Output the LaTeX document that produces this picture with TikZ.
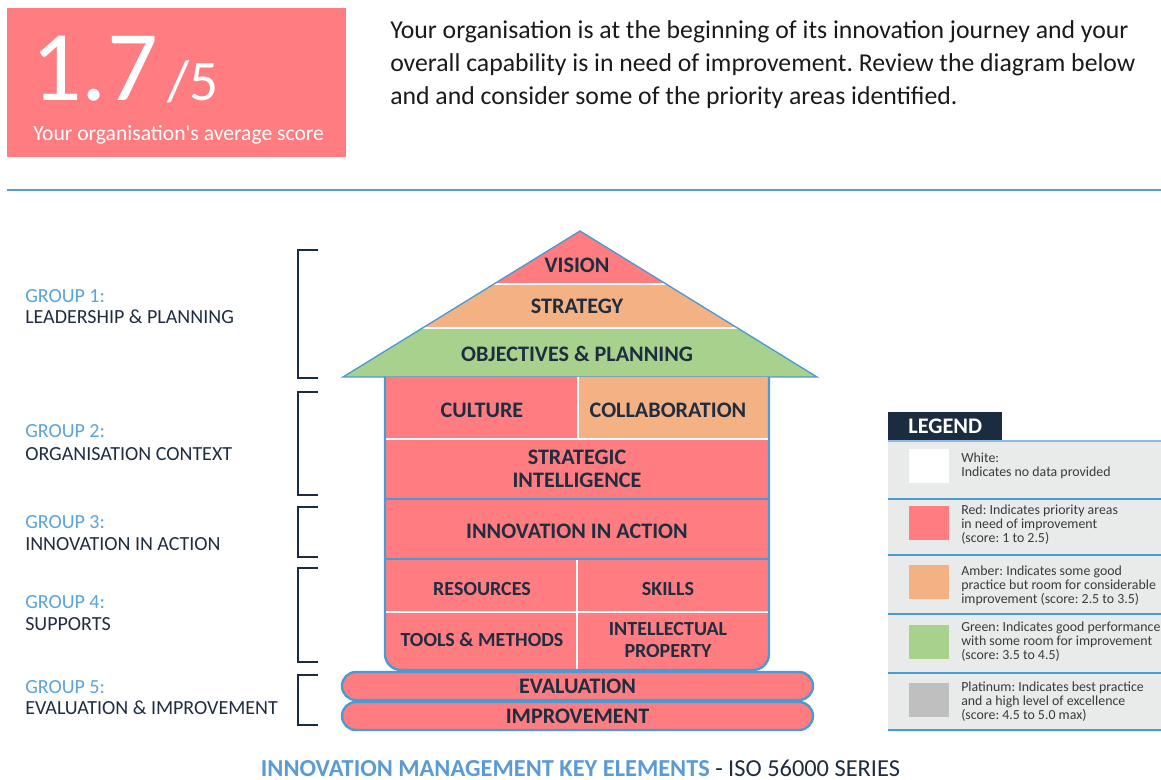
\documentclass[tikz,border=0pt]{standalone}
\usepackage{fontspec}
\setmainfont{Carlito}[Ligatures=TeXOff]
\frenchspacing
\definecolor{scorered}{HTML}{FF7C80}
\definecolor{amber}{HTML}{F4B183}
\definecolor{leaf}{HTML}{A9D18E}
\definecolor{platinum}{HTML}{BFBFBF}
\definecolor{edgeblue}{HTML}{4A9AD4}
\definecolor{rulecol}{HTML}{5B9BD5}
\definecolor{navy}{HTML}{1B2B40}
\definecolor{labelnavy}{HTML}{1F2D40}
\definecolor{grouptext}{HTML}{5AA4DC}
\definecolor{legendbg}{HTML}{E9EBEB}
\definecolor{legendtext}{HTML}{3A3A3A}
\definecolor{bodytext}{HTML}{1A1A1A}
\tikzset{
  cellText/.style={font=\bfseries\fontsize{16.6}{17.5}\selectfont, text=labelnavy, align=center, inner sep=0pt},
  smallCell/.style={cellText, font=\bfseries\fontsize{15}{16.5}\selectfont},
  groupHead/.style={anchor=base west, font=\fontsize{15}{17}\selectfont, text=grouptext, inner sep=0pt},
  groupName/.style={anchor=base west, font=\fontsize{15}{17}\selectfont, text=labelnavy, inner sep=0pt},
  bracket/.style={draw=navy, line width=1.9pt},
  legendText/.style={anchor=west, align=left, font=\fontsize{10.4}{10.6}\selectfont, text=legendtext, inner sep=0pt},
  swatch/.style={minimum width=30pt, minimum height=25pt, inner sep=0pt, draw=none},
  sepLine/.style={draw=edgeblue, line width=1.5pt},
  pill/.style={draw=edgeblue, line width=1.8pt, fill=scorered, rounded corners=10.5pt,
    minimum width=353.25pt, minimum height=21pt, inner sep=0pt},
  paraText/.style={anchor=base west, font=\fontsize{19.3}{24}\selectfont, text=bodytext, inner sep=0pt}
}
\begin{document}
\begin{tikzpicture}[x=0.75pt,y=-0.75pt]
\useasboundingbox (0,0) rectangle (1161,780);
\fill[white] (0,0) rectangle (1161,780);

% score panel
\node[fill=scorered, anchor=north west, minimum width=254.25pt, minimum height=111.75pt, inner sep=0pt] (scorebox) at (7,8) {};
\node[anchor=base west, inner sep=0pt, text=white, font=\fontsize{75}{75}\selectfont] (scorevalue) at (31,101) {1.7};
\node[anchor=base west, inner sep=0pt, text=white, font=\fontsize{43}{43}\selectfont] (scoremax) at (167,101) {/5};
\node[anchor=base west, inner sep=0pt, text=white, font=\fontsize{16.2}{18}\selectfont] (scorecaption) at (33,141) {Your organisation's average score};

% summary paragraph
\node[paraText] (para1) at (390,39) {Your organisation is at the beginning of its innovation journey and your};
\node[paraText] (para2) at (390,72) {overall capability is in need of improvement. Review the diagram below};
\node[paraText] (para3) at (390,105) {and and consider some of the priority areas identified.};

% divider
\draw[rulecol, line width=1.1pt] (7,190) -- (1161,190);

% roof bands
\fill[scorered] (580,231) -- (666,284) -- (494,284) -- cycle;
\fill[amber] (494,284) -- (666,284) -- (737.4,328) -- (422.6,328) -- cycle;
\fill[leaf] (422.6,328) -- (737.4,328) -- (817,377) -- (343,377) -- cycle;
\draw[white, line width=1.5pt] (494,284) -- (666,284);
\draw[white, line width=1.5pt] (422.6,328) -- (737.4,328);
\draw[edgeblue, line width=1pt] (580,231) -- (817,377) -- (343,377) -- cycle;

% house body
\fill[scorered, rounded corners=12pt] (385,377) -- (385,670) -- (769,670) -- (769,377);
\fill[amber] (578,377) rectangle (769,439);
\draw[white, line width=1.5pt] (578,377) -- (578,439);
\draw[white, line width=1.5pt] (385,439) -- (769,439);
\draw[white, line width=1.5pt] (577,559) -- (577,670);
\draw[white, line width=1.5pt] (385,612) -- (769,612);
\draw[edgeblue, line width=1.8pt] (385,499) -- (769,499);
\draw[edgeblue, line width=1.8pt] (385,559) -- (769,559);
\draw[edgeblue, line width=1.8pt, rounded corners=12pt] (385,377) -- (385,670) -- (769,670) -- (769,377);

% element labels
\node[cellText] (vision) at (577,265) {VISION};
\node[cellText] (strategy) at (577,306) {STRATEGY};
\node[cellText] (objectives) at (577,354) {OBJECTIVES \& PLANNING};
\node[cellText] (culture) at (482,410) {CULTURE};
\node[cellText] (collaboration) at (668,410) {COLLABORATION};
\node[cellText] (intelligence) at (577,469) {STRATEGIC\\INTELLIGENCE};
\node[cellText] (inaction) at (577,531) {INNOVATION IN ACTION};
\node[smallCell] (resources) at (482,589) {RESOURCES};
\node[smallCell] (skills) at (668,589) {SKILLS};
\node[smallCell] (tools) at (482,640) {TOOLS \& METHODS};
\node[smallCell] (property) at (668,640) {INTELLECTUAL\\PROPERTY};

% foundation
\node[pill, cellText] (evaluation) at (577.5,686) {EVALUATION};
\node[pill, cellText] (improvement) at (577.5,716) {IMPROVEMENT};

% group brackets
\draw[bracket] (318,250) -- (298,250) -- (298,378) -- (318,378);
\draw[bracket] (318,392) -- (298,392) -- (298,495) -- (318,495);
\draw[bracket] (318,507) -- (298,507) -- (298,557) -- (318,557);
\draw[bracket] (318,568) -- (298,568) -- (298,662) -- (318,662);
\draw[bracket] (318,675) -- (298,675) -- (298,725) -- (318,725);

% group labels
\node[groupHead] (g1head) at (25,303) {GROUP 1:};
\node[groupName] (g1name) at (25,324) {LEADERSHIP \& PLANNING};
\node[groupHead] (g2head) at (25,438) {GROUP 2:};
\node[groupName] (g2name) at (25,461) {ORGANISATION CONTEXT};
\node[groupHead] (g3head) at (25,529) {GROUP 3:};
\node[groupName] (g3name) at (25,551) {INNOVATION IN ACTION};
\node[groupHead] (g4head) at (25,609) {GROUP 4:};
\node[groupName] (g4name) at (25,630) {SUPPORTS};
\node[groupHead] (g5head) at (25,693) {GROUP 5:};
\node[groupName] (g5name) at (25,714) {EVALUATION \& IMPROVEMENT};

% legend
\fill[legendbg] (888,440) rectangle (1161,732);
\node[fill=navy, anchor=north west, minimum width=85.5pt, minimum height=21pt, inner sep=0pt,
  text=white, font=\bfseries\fontsize{16.7}{18}\selectfont] (legendhead) at (888,412) {LEGEND};
\draw[sepLine, draw=rulecol!70] (888,441) -- (1161,441);
\draw[sepLine] (888,499) -- (1161,499);
\draw[sepLine] (888,555) -- (1161,555);
\draw[sepLine] (888,614) -- (1161,614);
\draw[sepLine] (888,673) -- (1161,673);
\draw[sepLine] (888,730) -- (1161,730);

\node[swatch, fill=white] (swwhite) at (929,466) {};
\node[swatch, fill=scorered] (swred) at (929,523) {};
\node[swatch, fill=amber] (swamber) at (929,582) {};
\node[swatch, fill=leaf] (swgreen) at (929,642) {};
\node[swatch, fill=platinum] (swplat) at (929,700) {};

\node[legendText] (lgwhite) at (961,466) {White:\\Indicates no data provided};
\node[legendText] (lgred) at (961,525) {Red: Indicates priority areas\\in need of improvement\\(score: 1 to 2.5)};
\node[legendText] (lgamber) at (961,586) {Amber: Indicates some good\\practice but room for considerable\\improvement (score: 2.5 to 3.5)};
\node[legendText] (lggreen) at (961,642) {Green: Indicates good performance\\with some room for improvement\\(score: 3.5 to 4.5)};
\node[legendText] (lgplat) at (961,702) {Platinum: Indicates best practice\\and a high level of excellence\\(score: 4.5 to 5.0 max)};

% caption
\node[anchor=base, inner sep=0pt, text depth=0pt, font=\fontsize{18.3}{20}\selectfont, text=labelnavy] (caption) at (580.5,776)
  {\textcolor{rulecol}{\bfseries INNOVATION MANAGEMENT KEY ELEMENTS} - ISO 56000 SERIES};
\end{tikzpicture}
\end{document}
